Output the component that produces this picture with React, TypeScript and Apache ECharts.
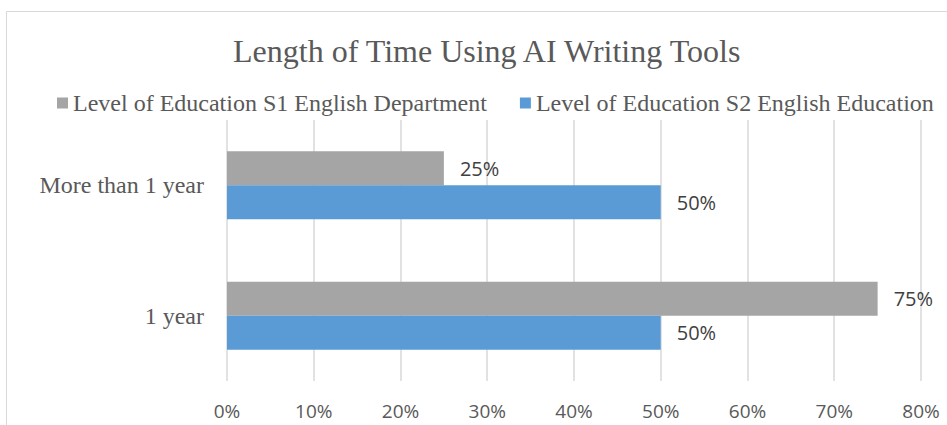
import React, { useEffect, useRef } from "react";
import * as echarts from "echarts";

const categories = ["1 year", "More than 1 year"];
const s1Name = "Level of Education S1 English Department";
const s2Name = "Level of Education S2 English Education";
const s1Values = [0.75, 0.25];
const s2Values = [0.5, 0.5];
const xTicks = [0, 0.1, 0.2, 0.3, 0.4, 0.5, 0.6, 0.7, 0.8];

const SERIF = "'Liberation Serif', 'Times New Roman', serif";
const SANS = "'Open Sans', 'Noto Sans', sans-serif";

export default function App() {
  const ref = useRef<HTMLDivElement>(null);
  useEffect(() => {
    if (!ref.current) return;
    const chart = echarts.init(ref.current, null, { renderer: "svg" });
    const pct = (v: number) => `${Math.round(v * 100)}%`;
    const labelCfg = {
      show: true,
      position: "right",
      distance: 16,
      formatter: (p: any) => pct(p.value),
      fontFamily: SANS,
      fontSize: 20,
      color: "#404040",
    };
    chart.setOption({
      animation: false,
      backgroundColor: "#ffffff",
      title: {
        text: "Length of Time Using AI Writing Tools",
        left: 228,
        top: 30,
        textStyle: { fontFamily: SERIF, fontSize: 32, fontWeight: "normal", color: "#595959" },
      },
      legend: {
        data: [s1Name, s2Name],
        left: 52,
        top: 86,
        icon: "rect",
        itemWidth: 11,
        itemHeight: 11,
        itemGap: 33,
        textStyle: { fontFamily: SERIF, fontSize: 24, color: "#595959" },
      },
      graphic: [
        {
          type: "rect",
          shape: { x: 6.5, y: 11.5, width: 1000, height: 500 },
          style: { fill: "none", stroke: "#D9D9D9", lineWidth: 1 },
          silent: true,
        },
      ],
      grid: { left: 227, right: 26, top: 120, bottom: 44 },
      xAxis: {
        type: "value",
        min: xTicks[0],
        max: xTicks[xTicks.length - 1],
        interval: 0.1,
        axisLine: { show: false },
        axisTick: { show: false },
        axisLabel: {
          formatter: (v: number) => pct(v),
          fontFamily: SANS,
          fontSize: 19,
          color: "#595959",
          margin: 20,
        },
        splitLine: { show: true, lineStyle: { color: "#D9D9D9", width: 1.5 } },
      },
      yAxis: {
        type: "category",
        data: categories,
        axisLine: { show: false },
        axisTick: { show: false },
        axisLabel: { fontFamily: SERIF, fontSize: 24, color: "#595959", margin: 23 },
      },
      series: [
        {
          name: s1Name,
          type: "bar",
          data: s1Values,
          barWidth: 34,
          barGap: "0%",
          itemStyle: { color: "#A5A5A5" },
          label: labelCfg,
        },
        {
          name: s2Name,
          type: "bar",
          data: s2Values,
          barWidth: 34,
          barGap: "0%",
          itemStyle: { color: "#5B9BD5" },
          label: labelCfg,
        },
      ],
    });
    return () => chart.dispose();
  }, []);
  return (
    <div
      ref={ref}
      style={{ position: "absolute", left: 0, top: 0, width: 947, height: 425 }}
    />
  );
}
